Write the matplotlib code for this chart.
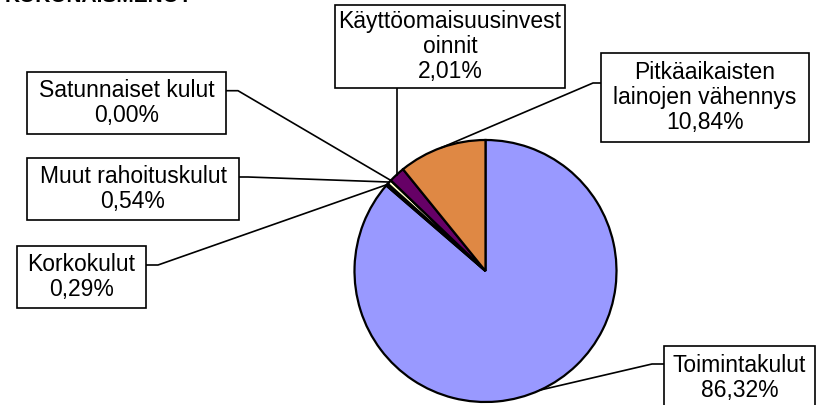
import numpy as np
import matplotlib
matplotlib.use("Agg")
import matplotlib.pyplot as plt
from matplotlib.patches import Rectangle

plt.rcParams['font.family'] = ['Liberation Sans', 'DejaVu Sans']

# ---- data ----
categories = ["Toimintakulut", "Korkokulut", "Muut rahoituskulut",
              "Satunnaiset kulut", "Käyttöomaisuusinvestoinnit",
              "Pitkäaikaisten lainojen vähennys"]
label_names = ["Toimintakulut", "Korkokulut", "Muut rahoituskulut",
               "Satunnaiset kulut", "Käyttöomaisuusinvest\noinnit",
               "Pitkäaikaisten\nlainojen vähennys"]
values = [86.32, 0.29, 0.54, 0.00, 2.01, 10.84]
colors = ["#9999FF", "#993366", "#FFFFCC", "#CCFFFF", "#660066", "#DF8844"]
title = "KOKONAISMENOT"

W, H = 825, 405
fig = plt.figure(figsize=(W / 100, H / 100), dpi=100)
ax = fig.add_axes([0, 0, 1, 1])

def P(x, y):
    return x, H - y

cx, cy, R = 485.5, 271, 131
ax.pie(values, colors=colors, startangle=90, counterclock=False,
       center=P(cx, cy), radius=R,
       wedgeprops=dict(edgecolor="black", linewidth=1.6))
ax.set_xlim(0, W)
ax.set_ylim(0, H)
ax.set_aspect("auto")
ax.axis("off")

# anchors on pie edge at wedge mid-angles
cum = np.cumsum([0] + values[:-1])
mids = cum + np.array(values) / 2
total = sum(values)
anchors = []
for m in mids:
    a = np.deg2rad(90 - m / total * 360)
    anchors.append((cx + R * np.cos(a), cy - R * np.sin(a)))

# box layout (pixel coords): x0, y0, x1, y1 ; leader start points
boxes = [
    (664, 346, 815, 412),   # Toimintakulut
    (17, 246, 146, 308),    # Korkokulut
    (27, 158, 239, 220),    # Muut rahoituskulut
    (27, 72, 226, 134),     # Satunnaiset
    (335, 5, 565, 88),      # Käyttöomaisuus
    (601, 53, 809, 142),    # Pitkäaikaisten
]
text_centers = [(739.5, 378), None, None, None, None, None]
leaders = [
    [(664, 364), (652, 364)],
    [(146, 265), (158, 265)],
    [(239, 177), (248, 177)],
    [(226, 90.7), (238, 90.7)],
    [],
    [(601, 83), (593, 83)],
]

for i in range(len(values)):
    x0, y0, x1, y1 = boxes[i]
    ax.add_patch(Rectangle(P(x0, y1), x1 - x0, y1 - y0, facecolor="white",
                           edgecolor="black", linewidth=1.2, zorder=5))
    tc = text_centers[i] or ((x0 + x1) / 2, (y0 + y1) / 2)
    lab = label_names[i] + "\n" + f"{values[i]:.2f}".replace(".", ",") + "%"
    ax.text(*P(*tc), lab, ha="center", va="center", fontsize=16.5,
            linespacing=1.12, zorder=6)
    ax_, ay_ = anchors[i]
    pts = leaders[i] if leaders[i] else [(ax_, y1)]
    pts = pts + [(ax_, ay_)]
    xs = [p[0] for p in pts]
    ys = [H - p[1] for p in pts]
    ax.plot(xs, ys, color="black", linewidth=1.2, zorder=4)

ax.text(192, H - 6, title, ha="right", va="bottom", fontsize=15,
        fontweight="bold")

fig.savefig("out.png", dpi=100)
